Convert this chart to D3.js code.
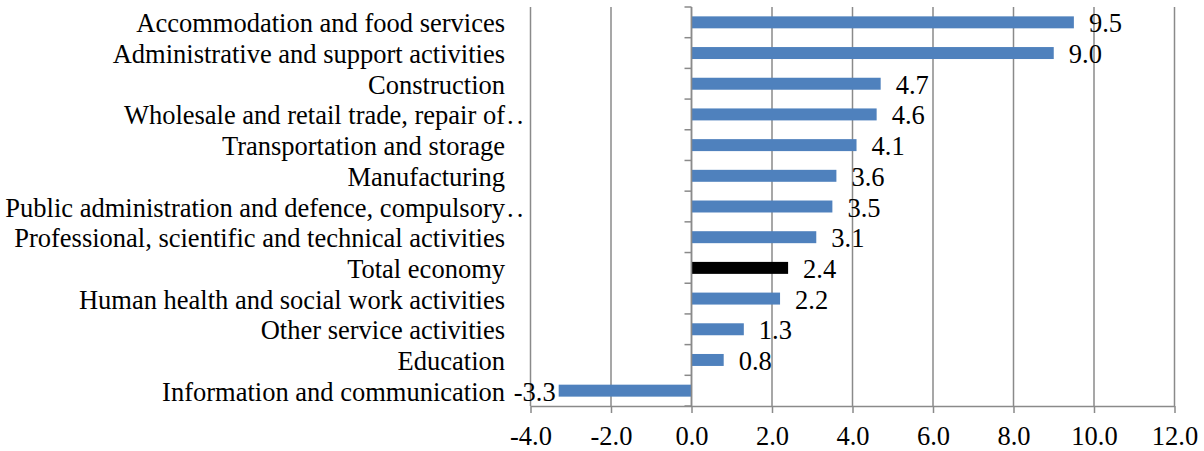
<!DOCTYPE html>
<html>
<head>
<meta charset="utf-8">
<script src="https://cdn.jsdelivr.net/npm/d3@7"></script>
<style>
  body { margin: 0; background: #fff; }
</style>
</head>
<body>
<div id="chart"></div>
<script>
// sectors, top to bottom as shown ("…" = label cut off in the original)
var sectors = [
  "Accommodation and food services",
  "Administrative and support activities",
  "Construction",
  "Wholesale and retail trade, repair of\u2026",
  "Transportation and storage",
  "Manufacturing",
  "Public administration and defence, compulsory\u2026",
  "Professional, scientific and technical activities",
  "Total economy",
  "Human health and social work activities",
  "Other service activities",
  "Education",
  "Information and communication"
];
var values = [9.5, 9.0, 4.7, 4.6, 4.1, 3.6, 3.5, 3.1, 2.4, 2.2, 1.3, 0.8, -3.3];
var xTicks = [-4, -2, 0, 2, 4, 6, 8, 10, 12];
var highlight = "Total economy";

var FONT = "'Liberation Serif', 'Times New Roman', serif";
var FS = "26.5px";

var W = 1204, H = 451;
var margin = {top: 7, right: 29.5, bottom: 45, left: 530.5};
var width = W - margin.left - margin.right,
    height = H - margin.top - margin.bottom;

var x = d3.scaleLinear().domain([-4, 12]).range([0, width]);
var y = d3.scaleBand().domain(sectors).range([0, height])
  .paddingInner(0.61).paddingOuter(0.305);

var svg = d3.select("#chart").append("svg")
  .attr("width", W).attr("height", H);
var g = svg.append("g")
  .attr("transform", "translate(" + margin.left + "," + margin.top + ")");

// vertical gridlines
g.selectAll(".grid").data(xTicks).enter().append("line")
  .attr("x1", function(d) { return x(d); })
  .attr("x2", function(d) { return x(d); })
  .attr("y1", 0).attr("y2", height)
  .attr("stroke", "#8a8a8a").attr("stroke-width", 1.5);

// x axis
var xAxis = g.append("g")
  .attr("transform", "translate(0," + height + ")")
  .call(d3.axisBottom(x).tickValues(xTicks)
    .tickSizeInner(7).tickSizeOuter(0).tickPadding(13.5));
xAxis.attr("font-family", null).attr("font-size", null);
xAxis.select(".domain").attr("stroke", "#8a8a8a").attr("stroke-width", 1.5);
xAxis.selectAll(".tick line").attr("stroke", "#8a8a8a").attr("stroke-width", 1.5);
xAxis.selectAll(".tick text")
  .style("font-family", FONT).style("font-size", FS).attr("fill", "#000")
  .text(function(d) { return d.toFixed(1); });

// bars
g.selectAll(".bar").data(values).enter().append("rect")
  .attr("x", function(d) { return x(Math.min(0, d)); })
  .attr("y", function(d, i) { return y(sectors[i]); })
  .attr("width", function(d) { return Math.abs(x(d) - x(0)); })
  .attr("height", y.bandwidth())
  .attr("fill", function(d, i) { return sectors[i] === highlight ? "#000" : "#4f81bd"; });

// y axis at zero, ticks at band boundaries
var zero = g.append("g").attr("transform", "translate(" + x(0) + ",0)");
zero.append("line").attr("y1", 0).attr("y2", height)
  .attr("stroke", "#8a8a8a").attr("stroke-width", 1.5);
var bounds = d3.range(sectors.length + 1).map(function(i) { return i * y.step(); });
zero.selectAll(".yt").data(bounds).enter().append("line")
  .attr("x1", -7).attr("x2", 0)
  .attr("y1", function(d) { return d; }).attr("y2", function(d) { return d; })
  .attr("stroke", "#8a8a8a").attr("stroke-width", 1.5);

// category labels, cut-off ones get the ".." after the anchor point
var cat = g.selectAll(".cat").data(sectors).enter().append("g")
  .attr("transform", function(d) { return "translate(-25.5," + (y(d) + y.bandwidth() / 2 + 10) + ")"; });
cat.append("text")
  .attr("text-anchor", "end")
  .style("font-family", FONT).style("font-size", FS).attr("fill", "#000")
  .text(function(d) { return d.replace("\u2026", ""); });
cat.filter(function(d) { return d.indexOf("\u2026") >= 0; }).append("text")
  .attr("x", 2)
  .style("font-family", FONT).style("font-size", FS).style("letter-spacing", "3px")
  .attr("fill", "#000")
  .text("..");

// value labels
g.selectAll(".val").data(values).enter().append("text")
  .attr("x", function(d) { return d >= 0 ? x(d) + 15 : x(d) - 3; })
  .attr("y", function(d, i) { return y(sectors[i]) + y.bandwidth() / 2 + 10; })
  .attr("text-anchor", function(d) { return d >= 0 ? "start" : "end"; })
  .style("font-family", FONT).style("font-size", FS).attr("fill", "#000")
  .text(function(d) { return d.toFixed(1); });
</script>
</body>
</html>
